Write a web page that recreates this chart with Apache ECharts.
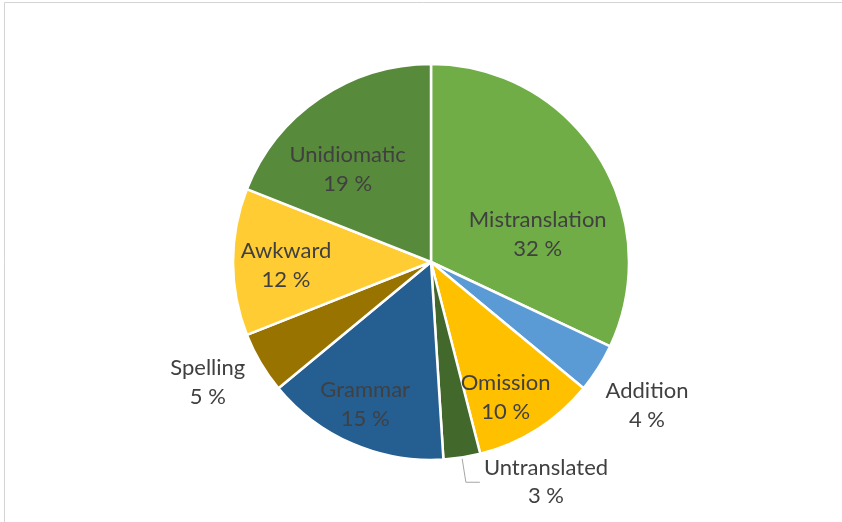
<!DOCTYPE html>
<html>
<head>
<meta charset="utf-8">
<script src="https://cdn.jsdelivr.net/npm/echarts@6/dist/echarts.min.js"></script>
<style>
html,body{margin:0;padding:0;background:#fff;}
#chart{width:842px;height:522px;}
</style>
</head>
<body>
<div id="chart"></div>
<script>
// ---- data ----
var categories = ['Mistranslation', 'Addition', 'Omission', 'Untranslated', 'Grammar', 'Spelling', 'Awkward', 'Unidiomatic'];
var shares = [32, 4, 10, 3, 15, 5, 12, 19];

// ---- styles ----
var colors = ['#70AD47', '#5B9BD5', '#FFC000', '#43682B', '#255E91', '#997300', '#FFCD33', '#578A3A'];
// which label group each slice uses: 'inner' | 'outer' | 'leader'
var labelGroup = ['inner', 'outer', 'inner', 'leader', 'inner', 'outer', 'inner', 'inner'];
// fine nudges of label placement (style)
var labelNudge = [[-14, 49], [-1, 6], [-2, 15], [0, 0], [-9, 11], [-2, -10], [-2, 3], [-3, 26]];

var FONT = 'Lato, "Open Sans", sans-serif';
var TEXT = '#404040';
var FS = 22;

function pct(p) { return Math.round(p.percent) + ' %'; }

var mainData = categories.map(function (c, i) {
  var item = { name: c, value: shares[i], itemStyle: { color: colors[i] } };
  if (labelGroup[i] === 'leader') {
    item.label = { show: true };
    item.labelLine = { show: true };
  } else {
    item.label = { show: false };
    item.labelLine = { show: false };
  }
  return item;
});

function labelData(group) {
  return categories.map(function (c, i) {
    return {
      name: c, value: shares[i],
      itemStyle: { color: 'rgba(0,0,0,0)' },
      label: { show: labelGroup[i] === group }
    };
  });
}

function nudge(params) {
  var n = labelNudge[params.dataIndex];
  return { dx: n[0], dy: n[1] };
}

var labelSeriesBase = {
  type: 'pie',
  center: [431, 262],
  startAngle: 90,
  clockwise: true,
  silent: true,
  avoidLabelOverlap: false,
  itemStyle: { borderWidth: 0 },
  emphasis: { disabled: true },
  label: {
    position: 'inside',
    color: TEXT, fontFamily: FONT, fontSize: FS, lineHeight: 29,
    formatter: function (p) { return p.name + '\n' + pct(p); }
  },
  labelLine: { show: false },
  labelLayout: nudge,
  z: 5
};

var chart = echarts.init(document.getElementById('chart'), null, { renderer: 'canvas' });
chart.setOption({
  animation: false,
  backgroundColor: '#ffffff',
  graphic: [{
    type: 'rect',
    shape: { x: 4.5, y: 2.5, width: 900, height: 600 },
    style: { fill: 'none', stroke: '#d4d4d4', lineWidth: 1 },
    silent: true
  }],
  series: [
    {
      type: 'pie',
      center: [431, 262],
      radius: [0, 198],
      startAngle: 90,
      clockwise: true,
      avoidLabelOverlap: false,
      emphasis: { disabled: true },
      itemStyle: { borderColor: '#ffffff', borderWidth: 2.5 },
      label: {
        position: 'outside',
        distanceToLabelLine: 4,
        formatter: function (p) { return '{n|' + p.name + '}\n{p|' + pct(p) + '}'; },
        rich: {
          n: { color: TEXT, fontFamily: FONT, fontSize: FS, lineHeight: 28 },
          p: { color: TEXT, fontFamily: FONT, fontSize: FS, lineHeight: 28, align: 'center' }
        }
      },
      labelLine: { length: 25, length2: 14, smooth: false, lineStyle: { color: '#A6A6A6', width: 1 } },
      data: mainData
    },
    Object.assign({}, labelSeriesBase, { radius: [0, 280], data: labelData('inner') }),
    Object.assign({}, labelSeriesBase, { radius: [238, 270], data: labelData('outer') })
  ]
});
</script>
</body>
</html>
